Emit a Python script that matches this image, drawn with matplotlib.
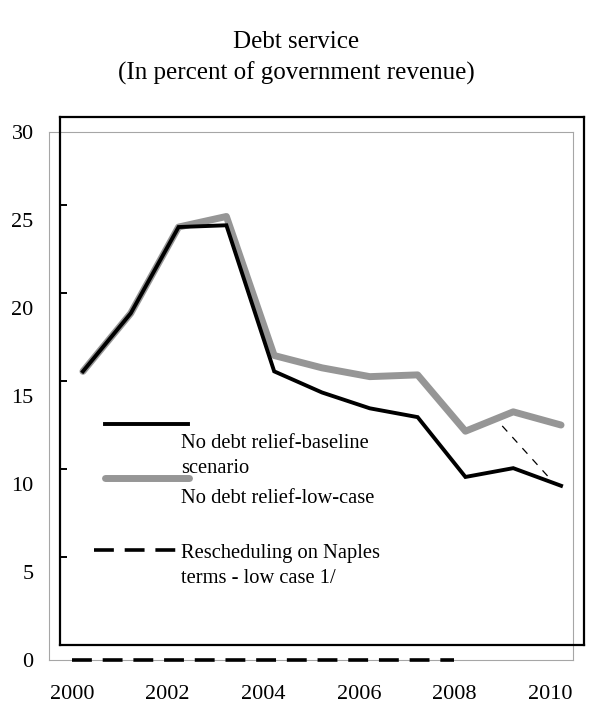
# -*- coding: utf-8 -*-
import numpy as np
import matplotlib
matplotlib.use('Agg')
import matplotlib.pyplot as plt
from matplotlib.lines import Line2D
from matplotlib.transforms import ScaledTranslation

plt.rcParams['font.family'] = ['Liberation Serif', 'DejaVu Serif']

years = np.arange(2000, 2011)
baseline = [16.4, 19.7, 24.6, 24.7, 16.4, 15.2, 14.3, 13.8, 10.4, 10.9, 9.9]
lowcase = [16.4, 19.7, 24.6, 25.2, 17.3, 16.6, 16.1, 16.2, 13.0, 14.1, 13.35]
resched_years = np.arange(2000, 2009)
resched = [0, 0, 0, 0, 0, 0, 0, 0, 0]
resched_tail_years = [2009, 2010]
resched_tail = [13.3, 10.3]

title1 = "Debt service"
title2 = "(In percent of government revenue)"
lab_base = ["No debt relief-baseline", "scenario"]
lab_low = ["No debt relief-low-case"]
lab_resch = ["Rescheduling on Naples", "terms - low case 1/"]

W, H = 592, 704
fig = plt.figure(figsize=(W / 100, H / 100), dpi=100, facecolor='w')

def px(x0, y0, x1, y1):
    # pixel box (from top-left) -> figure fraction rect
    return [x0 / W, (H - y1) / H, (x1 - x0) / W, (y1 - y0) / H]

# grey frame: the actual data axes
ax = fig.add_axes(px(49, 132, 573, 660))
ppy = 524 / (2010.25 - 1999.29)  # pixels per year
ax.set_xlim(1999.29, 2010.25)
ax.set_ylim(0, 30)
for s in ax.spines.values():
    s.set_color('#a6a6a6')
    s.set_linewidth(0.8)

shift = ScaledTranslation(-11 / 100, 0, fig.dpi_scale_trans)

ax.plot(years, baseline, color='black', lw=2.8, solid_joinstyle='miter', zorder=3)
ax.plot(years, lowcase, color='#969696', lw=5.0, solid_capstyle='round', zorder=2)
ax.plot(resched_years, resched, color='black', lw=2.6, dashes=(5.5, 3), transform=ax.transData + shift,
        clip_on=False, zorder=4)
ax.plot(resched_tail_years, resched_tail, color='black', lw=0.9, dashes=(6, 6), transform=ax.transData + shift,
        zorder=4)

ax.set_yticks(np.arange(0, 31, 5))
ax.set_xticks(years[::2] - 11 / ppy)
ax.set_xticklabels([str(y) for y in years[::2]])
ax.tick_params(axis='y', length=0, pad=11, labelsize=16)
ax.tick_params(axis='x', length=0, pad=18, labelsize=16)

# black frame overlaid, shifted
ax2 = fig.add_axes(px(60, 117, 584, 645))
ax2.patch.set_alpha(0)
ax2.set_ylim(0, 30)
ax2.set_xticks([])
ax2.set_yticks(np.arange(0, 31, 5))
ax2.tick_params(axis='y', direction='in', length=5, width=1.4, labelleft=False)
for s in ax2.spines.values():
    s.set_color('black')
    s.set_linewidth(1.6)

# legend drawn by hand
def fline(x0, x1, y, **kw):
    fig.add_artist(Line2D([x0 / W, x1 / W], [1 - y / H, 1 - y / H], transform=fig.transFigure, **kw))

fline(105, 188, 424, color='black', lw=2.8)
fline(105, 189, 478, color='#969696', lw=5.0, solid_capstyle='round')
fline(94, 177, 550, color='black', lw=2.6, dashes=(5.5, 3))

def ftext(lines, y0):
    for i, t in enumerate(lines):
        fig.text(181 / W, 1 - (y0 + 25 * i) / H, t, fontsize=14.8, va='baseline', ha='left')

ftext(lab_base, 448)
ftext(lab_low, 503)
ftext(lab_resch, 558)

fig.text(296 / W, 1 - 42 / H, title1, fontsize=18, ha='center', va='center')
fig.text(296 / W, 1 - 73 / H, title2, fontsize=18, ha='center', va='center')

fig.savefig('out.png', dpi=100, facecolor='w')
